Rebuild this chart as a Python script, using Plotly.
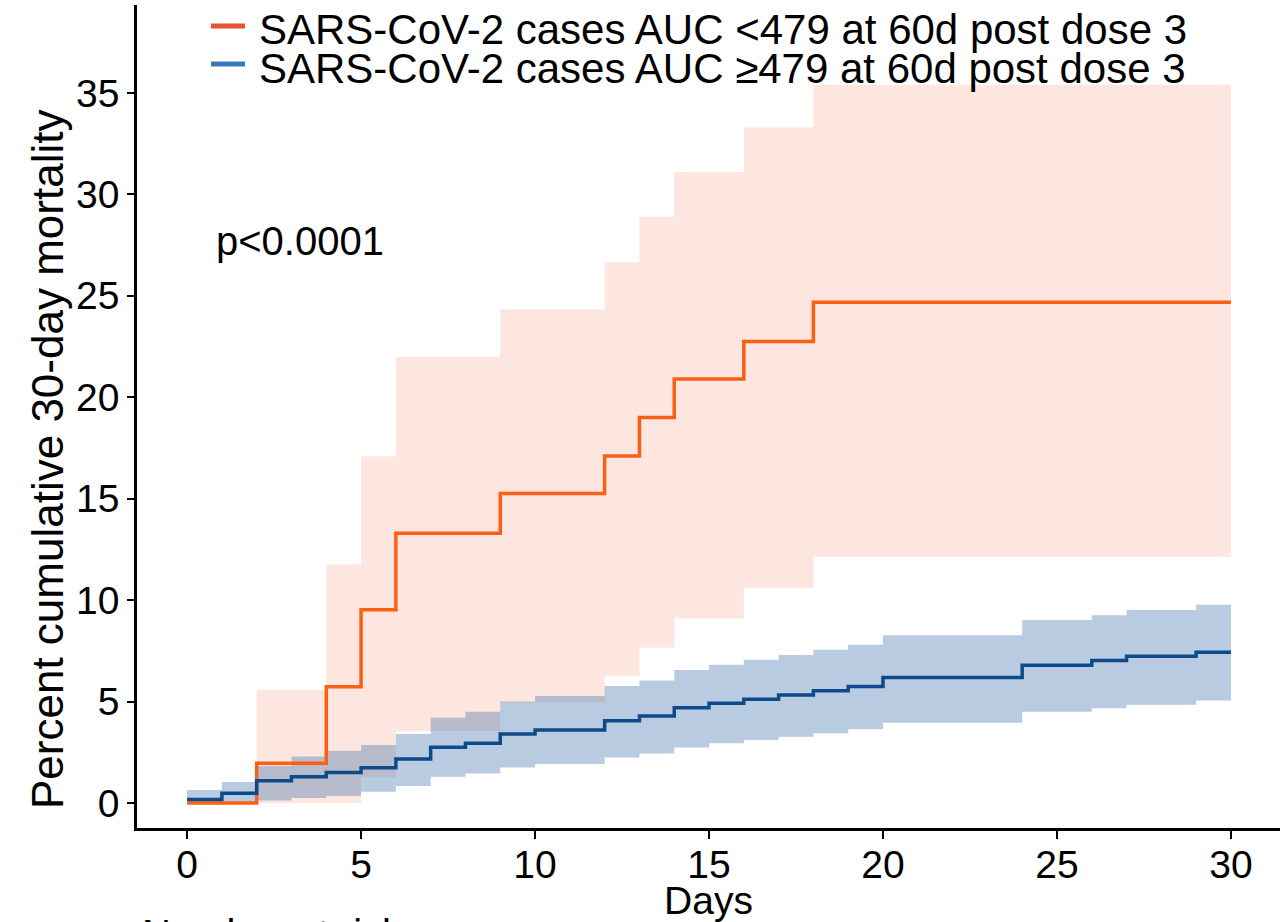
import plotly.graph_objects as go

# ---- data ----
days_low = [0, 2, 4, 5, 6, 9, 12, 13, 14, 16, 18, 30]
est_low = [0, 1.96, 5.73, 9.53, 13.3, 15.25, 17.1, 19.0, 20.9, 22.75, 24.68, 24.68]
upper_low = [0, 5.58, 11.75, 17.08, 22.0, 24.33, 26.65, 28.9, 31.1, 33.3, 35.4, 35.4]
lower_low = [0, 0, 0, 1.27, 3.55, 4.95, 6.27, 7.67, 9.1, 10.6, 12.14, 12.14]

days_high = [0, 1, 2, 3, 4, 5, 6, 7, 8, 9, 10, 12, 13, 14, 15, 16, 17, 18, 19, 20, 24, 26, 27, 29, 30]
est_high = [0.18, 0.48, 1.1, 1.3, 1.51, 1.74, 2.17, 2.75, 2.95, 3.4, 3.6, 4.06, 4.29, 4.7, 4.92,
            5.12, 5.33, 5.53, 5.74, 6.19, 6.79, 7.02, 7.24, 7.43, 7.43]
upper_high = [0.64, 1.04, 1.83, 2.29, 2.58, 2.86, 3.4, 4.2, 4.5, 5.0, 5.28, 5.77, 6.04, 6.56, 6.81,
              7.06, 7.3, 7.55, 7.8, 8.27, 9.02, 9.26, 9.51, 9.77, 9.77]
lower_high = [0.0, 0.06, 0.12, 0.25, 0.35, 0.56, 0.84, 1.3, 1.46, 1.75, 1.92, 2.25, 2.44, 2.74, 2.95,
              3.11, 3.27, 3.44, 3.64, 3.96, 4.5, 4.67, 4.84, 5.05, 5.05]

x_ticks = [0, 5, 10, 15, 20, 25, 30]
y_ticks = [0, 5, 10, 15, 20, 25, 30, 35]

name_low = "SARS-CoV-2 cases AUC <479 at 60d post dose 3"
name_high = "SARS-CoV-2 cases AUC \u2265479 at 60d post dose 3"
p_text = "p<0.0001"

FONT = "Liberation Sans, Arial, Helvetica, sans-serif"
ORANGE_LINE = "#FA5F14"
BLUE_LINE = "#0D4A8A"
ORANGE_FILL = "rgba(243,115,75,0.18)"
BLUE_FILL = "rgba(60,110,170,0.36)"

fig = go.Figure()

# orange confidence band
fig.add_trace(go.Scatter(x=days_low, y=lower_low, mode="lines", line=dict(width=0, shape="hv"),
                         showlegend=False, hoverinfo="skip"))
fig.add_trace(go.Scatter(x=days_low, y=upper_low, mode="lines", line=dict(width=0, shape="hv"),
                         fill="tonexty", fillcolor=ORANGE_FILL, showlegend=False, hoverinfo="skip"))
# blue confidence band
fig.add_trace(go.Scatter(x=days_high, y=lower_high, mode="lines", line=dict(width=0, shape="hv"),
                         showlegend=False, hoverinfo="skip"))
fig.add_trace(go.Scatter(x=days_high, y=upper_high, mode="lines", line=dict(width=0, shape="hv"),
                         fill="tonexty", fillcolor=BLUE_FILL, showlegend=False, hoverinfo="skip"))
# curves
fig.add_trace(go.Scatter(x=days_low, y=est_low, mode="lines", name=name_low,
                         line=dict(color=ORANGE_LINE, width=3.5, shape="hv"), showlegend=False))
fig.add_trace(go.Scatter(x=days_high, y=est_high, mode="lines", name=name_high,
                         line=dict(color=BLUE_LINE, width=3.5, shape="hv"), showlegend=False))

L, R, T, B = 137, 1, 5, 94
W, H = 1281, 922
pw, ph = W - L - R, H - T - B


def px(xp):
    return (xp - L) / pw


def py(yp):
    return (H - B - yp) / ph


annotations = [
    dict(text=name_low, x=px(257), y=py(29), xref="paper", yref="paper", xanchor="left",
         yanchor="middle", showarrow=False, font=dict(size=42, color="black", family=FONT)),
    dict(text=name_high, x=px(257), y=py(68), xref="paper", yref="paper", xanchor="left",
         yanchor="middle", showarrow=False, font=dict(size=42, color="black", family=FONT)),
    dict(text=p_text, x=px(214), y=py(241), xref="paper", yref="paper", xanchor="left",
         yanchor="middle", showarrow=False, font=dict(size=40, color="black", family=FONT)),
    dict(text="Percent cumulative 30-day mortality", x=px(47), y=py(460), xref="paper",
         yref="paper", xanchor="center", yanchor="middle", textangle=-90, showarrow=False,
         font=dict(size=44, color="black", family=FONT)),
    dict(text="Number at risk", x=px(140), y=py(934), xref="paper", yref="paper",
         xanchor="left", yanchor="middle", showarrow=False,
         font=dict(size=40, color="black", family=FONT)),
]

shapes = [
    dict(type="line", xref="paper", yref="paper", x0=px(211), x1=px(245), y0=py(26), y1=py(26),
         line=dict(color="#E8502F", width=5)),
    dict(type="line", xref="paper", yref="paper", x0=px(211), x1=px(245), y0=py(64), y1=py(64),
         line=dict(color="#3D78B8", width=5)),
]

fig.update_layout(
    width=W, height=H,
    margin=dict(l=L, r=R, t=T, b=B, pad=0),
    paper_bgcolor="white", plot_bgcolor="white",
    font=dict(family=FONT, color="black"),
    showlegend=False,
    annotations=annotations,
    shapes=shapes,
)
fig.update_xaxes(
    range=[-1.44, 31.41], tickvals=x_ticks, ticks="outside", ticklen=8, tickwidth=2,
    tickcolor="black", showline=True, linecolor="black", linewidth=2.5, showgrid=False,
    zeroline=False, tickfont=dict(size=39, family=FONT, color="black"), ticklabelstandoff=-8,
    title=dict(text="Days", font=dict(size=39, family=FONT, color="black"), standoff=0),
)
fig.update_yaxes(
    range=[-1.23, 39.33], tickvals=y_ticks, ticks="outside", ticklen=7, tickwidth=2,
    tickcolor="black", showline=True, linecolor="black", linewidth=2.5, showgrid=False,
    zeroline=False, tickfont=dict(size=39, family=FONT, color="black"),
)

fig.write_html("out.html")
